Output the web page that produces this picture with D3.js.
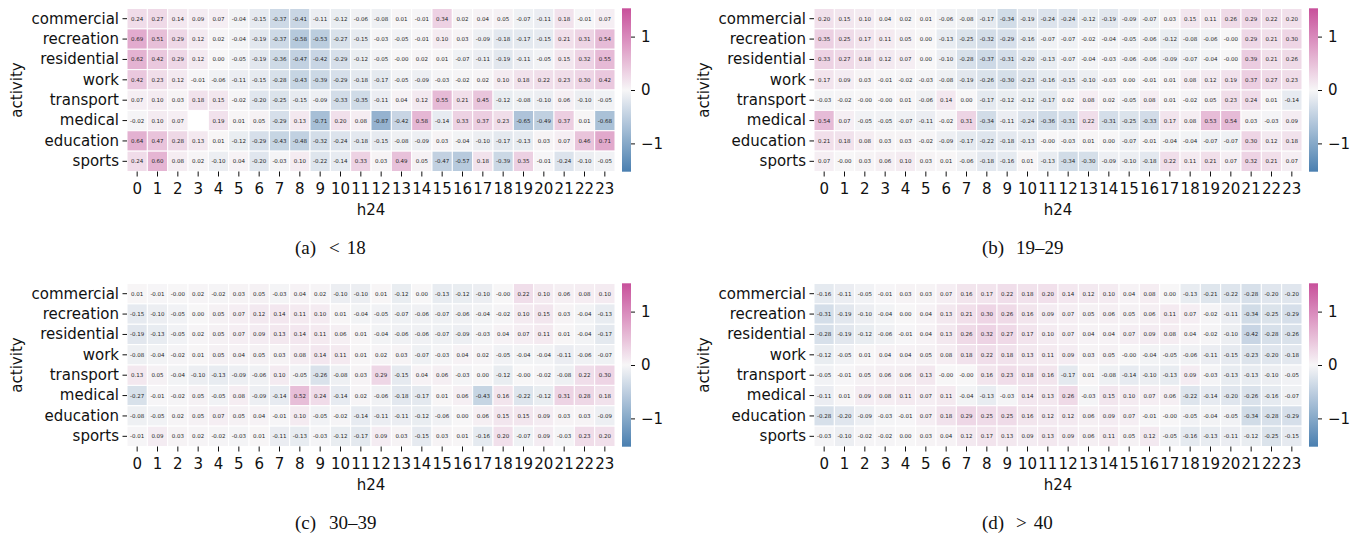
<!DOCTYPE html>
<html>
<head>
<meta charset="utf-8">
<script src="https://cdn.jsdelivr.net/npm/d3@7"></script>
<style>
  body { margin: 0; background: #fff; }
  text { font-family: "DejaVu Sans", sans-serif; }
</style>
</head>
<body>
<svg id="chart" width="1362" height="540"></svg>
<script>
// activités (lignes) et heures (colonnes)
const activities = ["commercial", "recreation", "residential", "work", "transport", "medical", "education", "sports"];
const hours = [0, 1, 2, 3, 4, 5, 6, 7, 8, 9, 10, 11, 12, 13, 14, 15, 16, 17, 18, 19, 20, 21, 22, 23];
const cbarTicks = [-1, 0, 1];

// (a) <18
const ageUnder18 = [
  [0.24, 0.27, 0.14, 0.09, 0.07, -0.04, -0.15, -0.37, -0.41, -0.11, -0.12, -0.06, -0.08, 0.01, -0.01, 0.34, 0.02, 0.04, 0.05, -0.07, -0.11, 0.18, -0.01, 0.07],
  [0.69, 0.51, 0.29, 0.12, 0.02, -0.04, -0.19, -0.37, -0.58, -0.53, -0.27, -0.15, -0.03, -0.05, -0.01, 0.10, 0.03, -0.09, -0.18, -0.17, -0.15, 0.21, 0.31, 0.54],
  [0.62, 0.42, 0.29, 0.12, 0.00, -0.05, -0.19, -0.36, -0.47, -0.42, -0.29, -0.12, -0.05, -0.00, 0.02, 0.01, -0.07, -0.11, -0.19, -0.11, -0.05, 0.15, 0.32, 0.55],
  [0.42, 0.23, 0.12, -0.01, -0.06, -0.11, -0.15, -0.28, -0.43, -0.39, -0.29, -0.18, -0.17, -0.05, -0.09, -0.03, -0.02, 0.02, 0.10, 0.18, 0.22, 0.23, 0.30, 0.42],
  [0.07, 0.10, 0.03, 0.18, 0.15, -0.02, -0.20, -0.25, -0.15, -0.09, -0.33, -0.35, -0.11, 0.04, 0.12, 0.55, 0.21, 0.45, -0.12, -0.08, -0.10, 0.06, -0.10, -0.05],
  [-0.02, 0.10, 0.07, null, 0.19, 0.01, 0.05, -0.29, 0.13, -0.71, 0.20, 0.08, -0.87, -0.42, 0.58, -0.14, 0.33, 0.37, 0.23, -0.65, -0.49, 0.37, 0.01, -0.68],
  [0.64, 0.47, 0.28, 0.13, 0.01, -0.12, -0.29, -0.43, -0.48, -0.32, -0.24, -0.18, -0.15, -0.08, -0.09, 0.03, -0.04, -0.10, -0.17, -0.13, 0.03, 0.07, 0.46, 0.71],
  [0.24, 0.60, 0.08, 0.02, -0.10, 0.04, -0.20, -0.03, 0.10, -0.22, -0.14, 0.33, 0.03, 0.49, 0.05, -0.47, -0.57, 0.18, -0.39, 0.35, -0.01, -0.24, -0.10, -0.05]
];

// (b) 19–29
const age19to29 = [
  [0.20, 0.15, 0.10, 0.04, 0.02, 0.01, -0.06, -0.08, -0.17, -0.34, -0.19, -0.24, -0.24, -0.12, -0.19, -0.09, -0.07, 0.03, 0.15, 0.11, 0.26, 0.29, 0.22, 0.20],
  [0.35, 0.25, 0.17, 0.11, 0.05, 0.00, -0.13, -0.25, -0.32, -0.29, -0.16, -0.07, -0.07, -0.02, -0.04, -0.05, -0.06, -0.12, -0.08, -0.06, -0.00, 0.29, 0.21, 0.30],
  [0.33, 0.27, 0.18, 0.12, 0.07, 0.00, -0.10, -0.28, -0.37, -0.31, -0.20, -0.13, -0.07, -0.04, -0.03, -0.06, -0.06, -0.09, -0.07, -0.04, -0.00, 0.39, 0.21, 0.26],
  [0.17, 0.09, 0.03, -0.01, -0.02, -0.03, -0.08, -0.19, -0.26, -0.30, -0.23, -0.16, -0.15, -0.10, -0.03, 0.00, -0.01, 0.01, 0.08, 0.12, 0.19, 0.37, 0.27, 0.23],
  [-0.03, -0.02, -0.00, -0.00, 0.01, -0.06, 0.14, 0.00, -0.17, -0.12, -0.12, -0.17, 0.02, 0.08, 0.02, -0.05, 0.08, 0.01, -0.02, 0.05, 0.23, 0.24, 0.01, -0.14],
  [0.54, 0.07, -0.05, -0.05, -0.07, -0.11, -0.02, 0.31, -0.34, -0.11, -0.24, -0.36, -0.31, 0.22, -0.31, -0.25, -0.33, 0.17, 0.08, 0.53, 0.54, 0.03, -0.03, 0.09],
  [0.21, 0.18, 0.08, 0.03, 0.03, -0.02, -0.09, -0.17, -0.22, -0.18, -0.13, -0.00, -0.03, 0.01, 0.00, -0.07, -0.01, -0.04, -0.04, -0.07, -0.07, 0.30, 0.12, 0.18],
  [0.07, -0.00, 0.03, 0.06, 0.10, 0.03, 0.01, -0.06, -0.18, -0.16, 0.01, -0.13, -0.34, -0.30, -0.09, -0.10, -0.18, 0.22, 0.11, 0.21, 0.07, 0.32, 0.21, 0.07]
];

// (c) 30–39
const age30to39 = [
  [0.01, -0.01, -0.00, 0.02, -0.02, 0.03, 0.05, -0.03, 0.04, 0.02, -0.10, -0.10, 0.01, -0.12, 0.00, -0.13, -0.12, -0.10, -0.00, 0.22, 0.10, 0.06, 0.08, 0.10],
  [-0.15, -0.10, -0.05, 0.00, 0.05, 0.07, 0.12, 0.14, 0.11, 0.10, 0.01, -0.04, -0.05, -0.07, -0.06, -0.07, -0.06, -0.04, -0.02, 0.10, 0.15, 0.03, -0.04, -0.13],
  [-0.19, -0.13, -0.05, 0.02, 0.05, 0.07, 0.09, 0.13, 0.14, 0.11, 0.06, 0.01, -0.04, -0.06, -0.06, -0.07, -0.09, -0.03, 0.04, 0.07, 0.11, 0.01, -0.04, -0.17],
  [-0.08, -0.04, -0.02, 0.01, 0.05, 0.04, 0.05, 0.03, 0.08, 0.14, 0.11, 0.01, 0.02, 0.03, -0.07, -0.03, 0.04, 0.02, -0.05, -0.04, -0.04, -0.11, -0.06, -0.07],
  [0.13, 0.05, -0.04, -0.10, -0.13, -0.09, -0.06, 0.10, -0.05, -0.26, -0.08, 0.03, 0.29, -0.15, 0.04, 0.06, -0.03, 0.00, -0.12, -0.00, -0.02, -0.08, 0.22, 0.30],
  [-0.27, -0.01, -0.02, 0.05, -0.05, 0.08, -0.09, -0.14, 0.52, 0.24, -0.14, 0.02, -0.06, -0.18, -0.17, 0.01, 0.06, -0.43, 0.16, -0.22, -0.12, 0.31, 0.28, 0.18],
  [-0.08, -0.05, 0.02, 0.05, 0.07, 0.05, 0.04, -0.01, 0.10, -0.05, -0.02, -0.14, -0.11, -0.11, -0.12, -0.06, 0.00, 0.06, 0.15, 0.15, 0.09, 0.03, 0.03, -0.09],
  [-0.01, 0.09, 0.03, 0.02, -0.02, -0.03, 0.01, -0.11, -0.13, -0.03, -0.12, -0.17, 0.09, 0.03, -0.15, 0.03, 0.01, -0.16, 0.20, -0.07, 0.09, -0.03, 0.23, 0.20]
];

// (d) > 40
const ageOver40 = [
  [-0.16, -0.11, -0.05, -0.01, 0.03, 0.03, 0.07, 0.16, 0.17, 0.22, 0.18, 0.20, 0.14, 0.12, 0.10, 0.04, 0.08, 0.00, -0.13, -0.21, -0.22, -0.28, -0.20, -0.20],
  [-0.31, -0.19, -0.10, -0.04, 0.00, 0.04, 0.13, 0.21, 0.30, 0.26, 0.16, 0.09, 0.07, 0.05, 0.06, 0.05, 0.06, 0.11, 0.07, -0.02, -0.11, -0.34, -0.25, -0.29],
  [-0.28, -0.19, -0.12, -0.06, -0.01, 0.04, 0.13, 0.26, 0.32, 0.27, 0.17, 0.10, 0.07, 0.04, 0.04, 0.07, 0.09, 0.08, 0.04, -0.02, -0.10, -0.42, -0.28, -0.26],
  [-0.12, -0.05, 0.01, 0.04, 0.04, 0.05, 0.08, 0.18, 0.22, 0.18, 0.13, 0.11, 0.09, 0.03, 0.05, -0.00, -0.04, -0.05, -0.06, -0.11, -0.15, -0.23, -0.20, -0.18],
  [-0.05, -0.01, 0.05, 0.06, 0.06, 0.13, -0.00, -0.00, 0.16, 0.23, 0.18, 0.16, -0.17, 0.01, -0.08, -0.14, -0.10, -0.13, 0.09, -0.03, -0.13, -0.13, -0.10, -0.05],
  [-0.11, 0.01, 0.09, 0.08, 0.11, 0.07, 0.11, -0.04, -0.13, -0.03, 0.14, 0.13, 0.26, -0.03, 0.15, 0.10, 0.07, 0.06, -0.22, -0.14, -0.20, -0.26, -0.16, -0.07],
  [-0.28, -0.20, -0.09, -0.03, -0.01, 0.07, 0.18, 0.29, 0.25, 0.25, 0.16, 0.12, 0.12, 0.06, 0.09, 0.07, -0.01, -0.00, -0.05, -0.04, -0.05, -0.34, -0.28, -0.29],
  [-0.03, -0.10, -0.02, -0.02, 0.00, 0.03, 0.04, 0.12, 0.17, 0.13, 0.09, 0.13, 0.09, 0.06, 0.11, 0.05, 0.12, -0.05, -0.16, -0.13, -0.11, -0.12, -0.25, -0.15]
];

const panels = [
  { data: ageUnder18, label: "(a)", parts: [["<", 0], ["18", 7]], dx: 0, dy: 0 },
  { data: age19to29, label: "(b)", parts: [["19–29", 0]], dx: 687, dy: 0 },
  { data: age30to39, label: "(c)", parts: [["30–39", 0]], dx: 0, dy: 275 },
  { data: ageOver40, label: "(d)", parts: [[">", 0], ["40", 7]], dx: 687, dy: 275 }
];

const svg = d3.select("#chart");
const vmax = 1.53;

// palette divergente bleu -> blanc -> rose
const color = d3.scaleLinear()
  .domain([-vmax, 0, vmax])
  .range(["#4a7fb0", "#f7f6f7", "#c8509b"])
  .interpolate(d3.interpolateRgb);

// dégradé pour la barre de couleur
const grad = svg.append("defs").append("linearGradient")
  .attr("id", "cbar")
  .attr("x1", 0).attr("y1", 1).attr("x2", 0).attr("y2", 0);
d3.range(0, 1.0001, 0.05).forEach((t) => {
  grad.append("stop")
    .attr("offset", t)
    .attr("stop-color", color(-vmax + 2 * vmax * t));
});

const fmt = (v) => (Object.is(v, -0) ? "-" : "") + v.toFixed(2);

const x = d3.scaleBand().domain(hours).range([127, 615]);
const y = d3.scaleBand().domain(activities).range([8.5, 171.5]);
const cy = d3.scaleLinear().domain([-vmax, vmax]).range([171.7, 8.3]);

panels.forEach((p) => drawPanel(p));

function drawPanel(p) {
  const g = svg.append("g").attr("transform", `translate(${p.dx},${p.dy})`);

  const cells = [];
  p.data.forEach((row, i) => {
    row.forEach((v, j) => {
      if (v !== null) cells.push({ act: activities[i], h: hours[j], v: v });
    });
  });

  g.selectAll("rect.cell")
    .data(cells)
    .enter()
    .append("rect")
    .attr("class", "cell")
    .attr("x", (d) => x(d.h))
    .attr("y", (d) => y(d.act))
    .attr("width", x.bandwidth())
    .attr("height", y.bandwidth())
    .attr("fill", (d) => color(d.v))
    .attr("stroke", "#fff")
    .attr("stroke-width", 1);

  g.selectAll("text.annot")
    .data(cells)
    .enter()
    .append("text")
    .attr("class", "annot")
    .attr("x", (d) => x(d.h) + x.bandwidth() / 2)
    .attr("y", (d) => y(d.act) + y.bandwidth() / 2)
    .attr("text-anchor", "middle")
    .attr("dominant-baseline", "central")
    .style("font-size", "5.5px")
    .style("fill", "#262626")
    .text((d) => fmt(d.v));

  // axes
  const ax = g.append("g")
    .attr("transform", "translate(127,0)")
    .call(d3.axisLeft(y).tickSize(4.5).tickPadding(3.5));
  const bx = g.append("g")
    .attr("transform", "translate(0,171.5)")
    .call(d3.axisBottom(x).tickSize(5).tickPadding(7));
  [ax, bx].forEach((a) => {
    a.select(".domain").remove();
    a.selectAll("text").style("font-size", "15px").style("fill", "#111")
      .style("font-family", '"DejaVu Sans", sans-serif');
    a.selectAll("line").attr("stroke", "#111");
  });

  g.append("text")
    .attr("transform", "translate(17,90) rotate(-90)")
    .attr("text-anchor", "middle")
    .attr("dominant-baseline", "central")
    .style("font-size", "15px")
    .style("fill", "#111")
    .text("activity");

  g.append("text")
    .attr("x", 371)
    .attr("y", 210)
    .attr("text-anchor", "middle")
    .attr("dominant-baseline", "central")
    .style("font-size", "15px")
    .style("fill", "#111")
    .text("h24");

  // barre de couleur
  g.append("rect")
    .attr("x", 622)
    .attr("y", cy(vmax))
    .attr("width", 9)
    .attr("height", cy(-vmax) - cy(vmax))
    .attr("fill", "url(#cbar)");
  const cax = g.append("g")
    .attr("transform", "translate(631,0)")
    .call(d3.axisRight(cy).tickValues(cbarTicks).tickSize(4).tickPadding(6)
      .tickFormat((d) => (d < 0 ? "\u2212" : "") + Math.abs(d)));
  cax.select(".domain").remove();
  cax.selectAll("text").style("font-size", "15px").style("fill", "#111")
    .style("font-family", '"DejaVu Sans", sans-serif');
  cax.selectAll("line").attr("stroke", "#111");

  // légende sous la figure
  const cap = g.append("text")
    .attr("y", 254)
    .style("font-family", '"Liberation Serif", "DejaVu Serif", serif')
    .style("font-size", "19px")
    .style("fill", "#111");
  cap.append("tspan").attr("x", 295).text(p.label);
  let first = true;
  p.parts.forEach(([t, gap]) => {
    const ts = cap.append("tspan").text(t);
    if (first) { ts.attr("x", 329); first = false; }
    else ts.attr("dx", gap);
  });
}
</script>
</body>
</html>
